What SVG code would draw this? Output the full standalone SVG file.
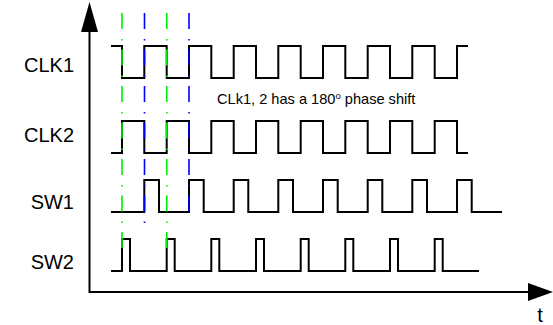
<svg xmlns="http://www.w3.org/2000/svg" width="553" height="325" viewBox="0 0 553 325">
<style>
.lbl{font-family:"Liberation Sans",Arial,Helvetica,sans-serif;font-size:20px;fill:#000;text-anchor:end}
.note{font-family:"Liberation Sans",Arial,Helvetica,sans-serif;font-size:14.6px;fill:#000}
.wave{fill:none;stroke:#000;stroke-width:2;stroke-linejoin:miter}
.axis{fill:none;stroke:#000;stroke-width:2}
.dg{stroke:#00ee00;stroke-width:1.6;stroke-dasharray:16 10 1.5 9;fill:none}
.db{stroke:#0000ff;stroke-width:1.6;stroke-dasharray:16 10 1.5 9;fill:none}
</style>
<rect width="553" height="325" fill="#fff"/>
<g id="axes">
<path class="axis" d="M89.5,30 V292 H530"/>
<polygon points="89.5,2 81,32 98,32" fill="#000"/>
<polygon points="553,292 528,283 528,301" fill="#000"/>
<text x="540" y="322" class="lbl" style="text-anchor:middle">t</text>
</g>
<g id="labels">
<text id="lbl-clk1" x="74" y="72" class="lbl">CLK1</text>
<text id="lbl-clk2" x="74" y="142" class="lbl">CLK2</text>
<text id="lbl-sw1" x="74" y="209" class="lbl">SW1</text>
<text id="lbl-sw2" x="74" y="269" class="lbl">SW2</text>
</g>
<g id="clk1">
<path class="wave" d="M111,46 H122 V78 H144.3 V46 H166.7 V78 H189 V46 H211.3 V78 H233.7 V46 H256 V78 H278.3 V46 H300.7 V78 H323 V46 H345.3 V78 H367.7 V46 H390 V78 H412.3 V46 H434.7 V78 H457 V46 H468"/>
</g>
<g id="clk2">
<path class="wave" d="M111,153 H122 V121 H144.3 V153 H166.7 V121 H189 V153 H211.3 V121 H233.7 V153 H256 V121 H278.3 V153 H300.7 V121 H323 V153 H345.3 V121 H367.7 V153 H390 V121 H412.3 V153 H434.7 V121 H457 V153 H468"/>
</g>
<g id="sw1">
<path class="wave" d="M111,212 H144.3 V180 H159 V212 H189 V180 H203.7 V212 H233.7 V180 H248.3 V212 H278.3 V180 H293 V212 H323 V180 H337.7 V212 H367.7 V180 H382.3 V212 H412.3 V180 H427 V212 H457 V180 H471.7 V212 H502"/>
</g>
<g id="sw2">
<path class="wave" d="M111,271 H122 V239 H130 V271 H166.7 V239 H174.7 V271 H211.3 V239 H219.3 V271 H256 V239 H264 V271 H300.7 V239 H308.7 V271 H345.3 V239 H353.3 V271 H390 V239 H398 V271 H434.7 V239 H442.7 V271 H479"/>
</g>
<g id="note">
<text class="note" x="217" y="104">CLk1, 2 has a 180<tspan dy="-5" font-size="9.5px">o</tspan><tspan dy="5"> phase shift</tspan></text>
</g>
<g id="connectors">
<line class="dg" x1="122" y1="13" x2="122" y2="248"/>
<line class="db" x1="144.5" y1="13" x2="144.5" y2="223.5"/>
<line class="dg" x1="166.8" y1="13" x2="166.8" y2="248"/>
<line class="db" x1="189" y1="13" x2="189" y2="211.5"/>
</g>
</svg>
